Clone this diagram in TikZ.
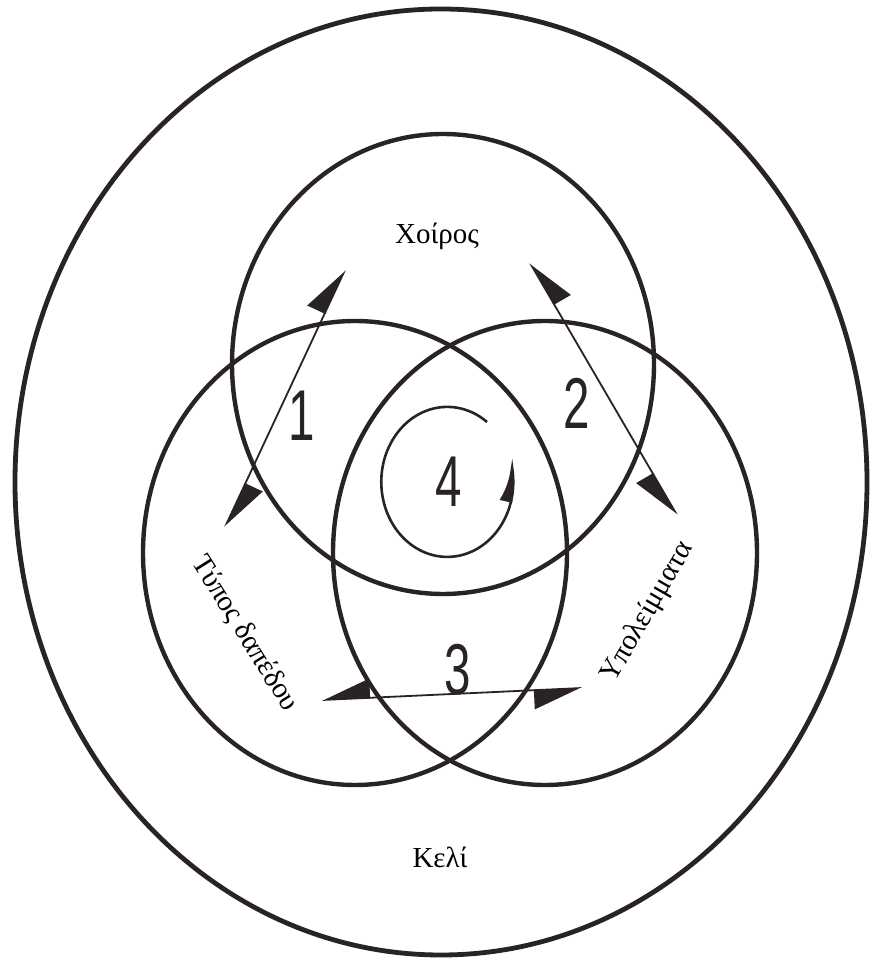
\documentclass[tikz,border=0pt]{standalone}
\usepackage{fontspec}
\setmainfont{Liberation Serif}
\setsansfont{Liberation Sans}
\usepackage{xcolor}
\usepackage{tikz}
\usetikzlibrary{arrows.meta,bending}
\definecolor{cInk}{HTML}{2A2323}
\tikzset{
  ring/.style={draw=cInk,line width=4.4pt},
  harrL/.style={draw=cInk,fill=cInk,line width=1.8pt,{Triangle[harpoon,length=46pt,width=38pt]}-{Triangle[harpoon,length=46pt,width=38pt]}},
  harrR/.style={draw=cInk,fill=cInk,line width=1.8pt,{Triangle[harpoon,swap,length=46pt,width=38pt]}-{Triangle[harpoon,swap,length=46pt,width=38pt]}},
  num/.style={font=\sffamily\fontsize{72}{72}\selectfont,text=cInk,xscale=0.66,inner sep=0pt},
  lbl/.style={font=\fontsize{29}{31}\selectfont,text=black,inner sep=0pt},
}

\begin{document}
\begin{tikzpicture}[x=1pt,y=1pt]
  \useasboundingbox (0,0) rectangle (873,967);
  % cell and the three sets
  \draw[ring,line width=4.8pt] (441,485) ellipse [x radius=426, y radius=473];
  \draw[ring] (443,603) ellipse [x radius=211, y radius=230];
  \draw[ring] (355,414) ellipse [x radius=212, y radius=232];
  \draw[ring] (545,414) ellipse [x radius=212, y radius=232];
  % inner loop
  \draw[draw=cInk,line width=2.6pt,-{Triangle[harpoon,bend,length=40pt,width=22pt]}]
    (487,545) arc[start angle=53, end angle=378, x radius=66, y radius=75];
  % labels
  \node[lbl] (pig) at (437,731) {Χοίρος};
  \node[lbl] (cell) at (440,110) {Κελί};
  \node[lbl,rotate=-58] (floor) at (245,333) {Τύπος δαπέδου};
  \node[lbl,rotate=60] (rest) at (648,355) {Υπολείμματα};
  % numbers
  \node[num] (n1) at (302,551) {1};
  \node[num] (n2) at (577,564) {2};
  \node[num] (n3) at (458,297) {3};
  \node[num] (n4) at (449,485) {4};
  % interactions
  \coordinate (a1s) at (225,440);
  \coordinate (a1e) at (345,697);
  \coordinate (a2s) at (530,704);
  \coordinate (a2e) at (677,452);
  \coordinate (a3s) at (322,267);
  \coordinate (a3e) at (582,279);
  \draw[harrL] (a1s) -- (a1e);
  \draw[harrR] (a2s) -- (a2e);
  \draw[harrR] (a3s) -- (a3e);
\end{tikzpicture}
\end{document}
